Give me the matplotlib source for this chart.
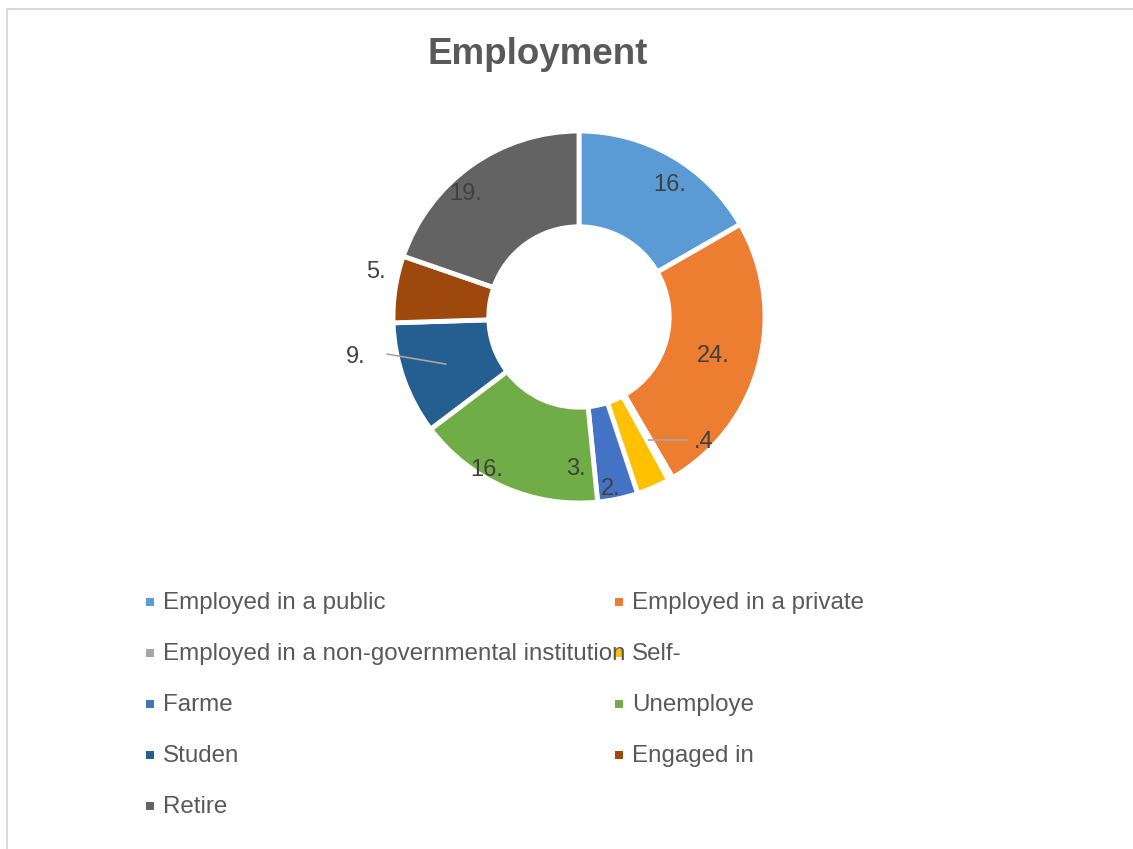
import numpy as np
import matplotlib.pyplot as plt
from matplotlib.patches import Rectangle

plt.rcParams["font.family"] = ["Liberation Sans", "DejaVu Sans"]

# employment shares (%), clockwise from 12 o'clock
categories = [
    "Employed in a public",
    "Employed in a private",
    "Employed in a non-governmental institution",
    "Self-",
    "Farme",
    "Unemploye",
    "Studen",
    "Engaged in",
    "Retire",
]
shares = [16.7, 24.9, 0.4, 2.9, 3.5, 16.3, 9.8, 5.8, 19.7]
colors = ["#5B9BD5", "#ED7D31", "#A5A5A5", "#FFC000", "#4472C4",
          "#70AD47", "#255E91", "#9E480E", "#636363"]

# label placement: angle nudge (deg, clockwise) and radius (outer radius = 1)
label_shift = [4.6, 1.4, -15.5, 13.0, 13.2, 7.4, 9.2, 3.9, -7.0]
label_r = [0.86, 0.75, 0.95, 0.94, 0.82, 0.96, 1.22, 1.12, 0.90]
leader = {2: (-11.8, 0.88), 6: (8.5, 1.05)}  # slice index -> line end (nudge, r)

W, H = 1133, 849
fig = plt.figure(figsize=(W / 100, H / 100), dpi=100)

# chart border
fig.patches.append(Rectangle((6.5 / W, -0.1), 1.2, 1 - 9 / H + 0.1,
                             transform=fig.transFigure, fill=False,
                             edgecolor="#D9D9D9", linewidth=1.5))

fig.text(538 / W, 1 - 55 / H, "Employment", ha="center", va="center",
         fontsize=26.5, fontweight="bold", color="#595959")

cx, cy, R = 579, 317, 186
ax = fig.add_axes([(cx - R) / W, (H - cy - R) / H, 2 * R / W, 2 * R / H])
ax.pie(shares, colors=colors, startangle=90, counterclock=False, radius=1,
       wedgeprops=dict(width=0.515, edgecolor="white", linewidth=3.5))
ax.set_xlim(-1, 1)
ax.set_ylim(-1, 1)
ax.set_aspect("equal")
ax.axis("off")


def polar(deg, r):
    a = np.deg2rad(deg)
    return r * np.sin(a), r * np.cos(a)


def fmt(v):
    s = f"{v:.1f}"
    return s.lstrip("0")[:2] if v < 1 else s.split(".")[0] + "."


cum = np.cumsum([0] + shares)
for i, v in enumerate(shares):
    mid = (cum[i] + v / 2) / 100 * 360
    x, y = polar(mid + label_shift[i], label_r[i])
    ax.text(x, y, fmt(v), ha="center", va="center", fontsize=17,
            color="#404040", clip_on=False)
    if i in leader:
        d, r = leader[i]
        x0, y0 = polar(mid, 0.76)
        x1, y1 = polar(mid + d, r)
        ax.plot([x0, x1], [y0, y1], color="#A6A6A6", linewidth=1.2,
                clip_on=False)

# legend laid out row by row in two columns
col_x = [150, 619]
row_y = [602, 653, 704, 755, 806]
for i, (name, c) in enumerate(zip(categories, colors)):
    mx, my = col_x[i % 2], row_y[i // 2]
    fig.patches.append(Rectangle(((mx - 4) / W, 1 - (my + 4) / H), 8 / W, 8 / H,
                                 transform=fig.transFigure, facecolor=c,
                                 edgecolor="none"))
    fig.text((mx + 13) / W, 1 - (my + 1) / H, name, ha="left", va="center",
             fontsize=17.4, color="#595959")

fig.savefig("out.png", dpi=100)
